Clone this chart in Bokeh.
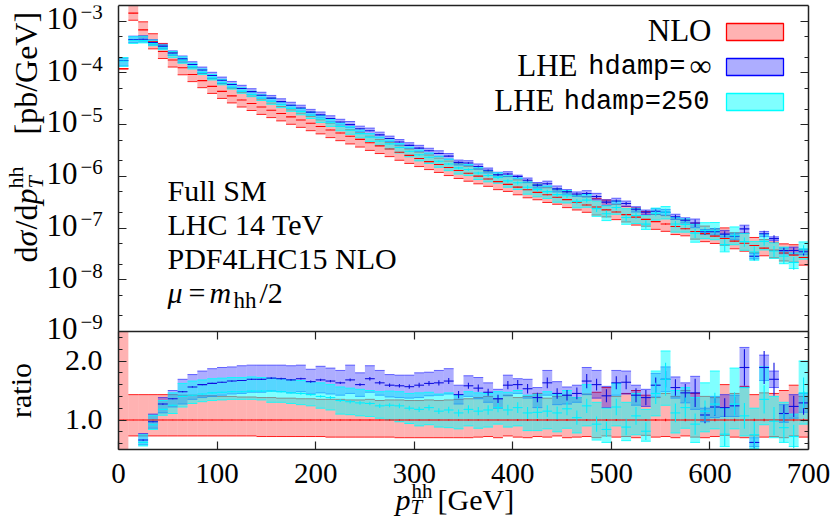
import numpy as np
from bokeh.plotting import figure
from bokeh.models import (ColumnDataSource, FixedTicker, LogAxis, LinearAxis, Range1d,
                          LinearScale, CustomJSTickFormatter, Label)
from bokeh.embed import file_html
from bokeh.resources import INLINE

# ---------------------------------------------------------------- data
bin_lo = list(range(0, 700, 10))      # left bin edges [GeV]
bin_width = 10

# NLO central value, d sigma / d pT [pb/GeV]
nlo_central = [1.2e-4, 1.43e-3, 6.8e-4, 4.0e-4, 2.6e-4, 1.78e-4, 1.26e-4, 9.3e-5, 7.1e-5, 5.5e-5,
               4.4e-5, 3.6e-5, 3.0e-5, 2.57e-5, 2.19e-5, 1.9e-5, 1.64e-5, 1.41e-5, 1.23e-5, 1.06e-5,
               9.2e-6, 7.9e-6, 6.9e-6, 5.96e-6, 5.19e-6, 4.47e-6, 3.89e-6, 3.39e-6, 2.92e-6, 2.54e-6,
               2.21e-6, 1.93e-6, 1.70e-6, 1.48e-6, 1.30e-6, 1.15e-6, 1.01e-6, 8.9e-7, 7.9e-7, 7.0e-7,
               6.2e-7, 5.5e-7, 4.9e-7, 4.4e-7, 3.95e-7, 3.55e-7, 3.15e-7, 2.8e-7, 2.55e-7, 2.25e-7,
               2.05e-7, 1.82e-7, 1.63e-7, 1.47e-7, 1.33e-7, 1.2e-7, 1.07e-7, 9.7e-8, 8.6e-8, 7.8e-8,
               7.0e-8, 6.3e-8, 5.6e-8, 5.1e-8, 4.6e-8, 4.1e-8, 3.7e-8, 3.3e-8, 3.0e-8, 2.7e-8]

# NLO scale band and stat. error, relative to the NLO central value
nlo_ratio_hi = [1.00, 1.43, 1.43, 1.43, 1.43, 1.43, 1.42, 1.42, 1.41, 1.41,
                1.40, 1.40, 1.39, 1.39, 1.38, 1.38, 1.37, 1.37, 1.36, 1.36,
                1.35, 1.35, 1.35, 1.34, 1.34, 1.35, 1.33, 1.34, 1.34, 1.33,
                1.33, 1.34, 1.33, 1.34, 1.35, 1.36, 1.38, 1.40, 1.36, 1.42,
                1.38, 1.40, 1.45, 1.37, 1.40, 1.42, 1.38, 1.44, 1.47, 1.55,
                1.40, 1.45, 1.50, 1.42, 1.38, 1.45, 1.40, 1.50, 1.45, 1.40,
                1.38, 1.60, 1.45, 1.57, 1.43, 1.46, 1.45, 1.50, 1.59, 1.40]
nlo_ratio_lo = [1.00, 0.73, 0.73, 0.73, 0.73, 0.73, 0.73, 0.73, 0.73, 0.73,
                0.73, 0.73, 0.73, 0.73, 0.72, 0.72, 0.72, 0.72, 0.72, 0.72,
                0.72, 0.71, 0.71, 0.71, 0.71, 0.71, 0.71, 0.71, 0.70, 0.70,
                0.70, 0.70, 0.70, 0.70, 0.70, 0.70, 0.71, 0.72, 0.70, 0.73,
                0.71, 0.70, 0.72, 0.71, 0.73, 0.70, 0.71, 0.72, 0.70, 0.73,
                0.71, 0.72, 0.70, 0.74, 0.71, 0.72, 0.70, 0.73, 0.71, 0.70,
                0.72, 0.74, 0.71, 0.70, 0.73, 0.71, 0.72, 0.70, 0.73, 0.71]
nlo_ratio_err = [0.004] * 20 + [0.008] * 20 + [0.015] * 15 + [0.02] * 15
nlo_ratio_bin0_band = (0.5, 2.5)   # first ratio bin is off scale: it fills the whole panel

# LHE hdamp = infinity, relative to the NLO central value
lhe_inf_ratio = [1.45, 0.31, 0.66, 0.97, 1.27, 1.36, 1.48, 1.56, 1.60, 1.62,
                 1.64, 1.66, 1.67, 1.69, 1.69, 1.71, 1.70, 1.68, 1.70, 1.65,
                 1.68, 1.66, 1.63, 1.68, 1.60, 1.70, 1.63, 1.59, 1.58, 1.565,
                 1.59, 1.62, 1.63, 1.66, 1.43, 1.58, 1.54, 1.47, 1.36, 1.59,
                 1.60, 1.53, 1.38, 1.63, 1.45, 1.42, 1.45, 1.66, 1.60, 1.41,
                 1.63, 1.64, 1.42, 1.38, 1.59, 1.69, 1.55, 1.46, 1.46, 1.085,
                 1.22, 1.21, 1.24, 1.89, 0.62, 1.89, 1.69, 1.11, 1.23, 1.29]
lhe_inf_ratio_hi = [1.62, 0.36, 0.77, 1.10, 1.38, 1.50, 1.69, 1.77, 1.83, 1.87,
                    1.89, 1.90, 1.92, 1.93, 1.93, 1.93, 1.93, 1.92, 1.93, 1.86,
                    1.91, 1.88, 1.84, 1.93, 1.80, 1.92, 1.84, 1.77, 1.76, 1.76,
                    1.80, 1.81, 1.84, 1.87, 1.59, 1.75, 1.72, 1.63, 1.52, 1.76,
                    1.70, 1.69, 1.55, 1.84, 1.65, 1.56, 1.59, 1.89, 1.84, 1.57,
                    1.84, 1.83, 1.59, 1.52, 1.79, 1.90, 1.73, 1.63, 1.74, 1.20,
                    1.40, 1.43, 1.42, 2.23, 0.70, 2.10, 1.83, 1.26, 1.43, 1.45]
lhe_inf_ratio_lo = [1.13, 0.27, 0.58, 0.86, 1.12, 1.22, 1.27, 1.35, 1.38, 1.40,
                    1.42, 1.44, 1.45, 1.47, 1.47, 1.49, 1.48, 1.46, 1.48, 1.44,
                    1.46, 1.44, 1.42, 1.45, 1.40, 1.47, 1.42, 1.39, 1.38, 1.37,
                    1.38, 1.41, 1.42, 1.44, 1.27, 1.40, 1.36, 1.30, 1.20, 1.41,
                    1.45, 1.37, 1.21, 1.42, 1.26, 1.27, 1.30, 1.43, 1.37, 1.21,
                    1.42, 1.44, 1.25, 1.23, 1.39, 1.48, 1.37, 1.29, 1.18, 0.97,
                    1.04, 1.06, 1.06, 1.55, 0.55, 1.67, 1.55, 0.96, 1.03, 1.13]
lhe_inf_ratio_err = [0.01, 0.005, 0.01, 0.01, 0.01, 0.01, 0.01, 0.01, 0.01, 0.01,
                     0.01, 0.01, 0.01, 0.01, 0.01, 0.015, 0.015, 0.015, 0.015, 0.02,
                     0.02, 0.02, 0.02, 0.025, 0.025, 0.03, 0.03, 0.03, 0.03, 0.035,
                     0.04, 0.04, 0.045, 0.05, 0.06, 0.05, 0.06, 0.06, 0.07, 0.07,
                     0.08, 0.08, 0.08, 0.09, 0.09, 0.09, 0.10, 0.12, 0.10, 0.11,
                     0.11, 0.12, 0.12, 0.13, 0.13, 0.14, 0.14, 0.15, 0.24, 0.14,
                     0.15, 0.16, 0.15, 0.31, 0.10, 0.28, 0.28, 0.15, 0.18, 0.20]

# LHE hdamp = 250, relative to the NLO central value
lhe_250_ratio = [1.42, 0.30, 0.62, 0.92, 1.18, 1.25, 1.40, 1.42, 1.44, 1.46,
                 1.47, 1.48, 1.48, 1.49, 1.49, 1.49, 1.48, 1.46, 1.45, 1.43,
                 1.40, 1.38, 1.33, 1.31, 1.29, 1.28, 1.24, 1.25, 1.24, 1.20,
                 1.18, 1.21, 1.15, 1.17, 1.12, 1.18, 1.15, 1.17, 1.21, 1.17,
                 1.21, 1.12, 1.13, 1.15, 1.12, 1.19, 1.04, 1.24, 0.93, 0.84,
                 1.22, 0.88, 1.07, 0.81, 1.45, 1.69, 1.12, 1.21, 0.93, 1.15,
                 1.27, 0.76, 1.27, 1.07, 0.75, 1.35, 0.98, 0.87, 0.72, 1.46]
lhe_250_ratio_hi = [1.65, 0.35, 0.75, 1.08, 1.33, 1.46, 1.62, 1.66, 1.68, 1.70,
                    1.71, 1.72, 1.72, 1.73, 1.72, 1.71, 1.70, 1.68, 1.67, 1.65,
                    1.63, 1.60, 1.56, 1.54, 1.52, 1.50, 1.48, 1.49, 1.48, 1.45,
                    1.46, 1.47, 1.44, 1.46, 1.42, 1.48, 1.46, 1.45, 1.48, 1.47,
                    1.50, 1.42, 1.44, 1.48, 1.44, 1.50, 1.38, 1.60, 1.30, 1.20,
                    1.62, 1.30, 1.45, 1.18, 1.83, 2.17, 1.50, 1.55, 1.38, 1.63,
                    1.83, 1.20, 1.88, 1.55, 1.20, 1.90, 1.40, 1.30, 1.10, 2.00]
lhe_250_ratio_lo = [1.12, 0.26, 0.56, 0.84, 1.08, 1.11, 1.22, 1.28, 1.31, 1.33,
                    1.34, 1.35, 1.35, 1.35, 1.34, 1.30, 1.30, 1.28, 1.26, 1.24,
                    1.20, 1.17, 1.10, 1.09, 1.07, 1.06, 1.03, 1.00, 0.97, 0.94,
                    0.90, 0.92, 0.88, 0.87, 0.85, 0.90, 0.86, 0.88, 0.93, 0.88,
                    0.90, 0.82, 0.82, 0.85, 0.80, 0.86, 0.78, 0.90, 0.66, 0.62,
                    0.90, 0.65, 0.75, 0.64, 1.07, 1.25, 0.78, 0.86, 0.62, 0.80,
                    0.85, 0.55, 0.85, 0.73, 0.52, 0.92, 0.70, 0.62, 0.55, 0.93]
lhe_250_ratio_err = [0.01, 0.005, 0.01, 0.01, 0.01, 0.01, 0.01, 0.01, 0.01, 0.01,
                     0.01, 0.01, 0.01, 0.01, 0.015, 0.015, 0.015, 0.015, 0.02, 0.02,
                     0.02, 0.025, 0.025, 0.03, 0.03, 0.03, 0.035, 0.035, 0.04, 0.04,
                     0.045, 0.05, 0.05, 0.055, 0.06, 0.07, 0.07, 0.08, 0.08, 0.09,
                     0.09, 0.10, 0.10, 0.10, 0.11, 0.11, 0.12, 0.12, 0.13, 0.13,
                     0.14, 0.14, 0.15, 0.15, 0.18, 0.28, 0.16, 0.17, 0.18, 0.18,
                     0.19, 0.20, 0.20, 0.22, 0.22, 0.24, 0.24, 0.25, 0.20, 0.26]
ratio_lhe_first_bin = 2   # the first two LHE ratio bins are off scale

# ticks and texts
log_tick_exponents = [-9, -8, -7, -6, -5, -4, -3]
log_minor_mantissas = [2, 5]
x_ticks = [0, 100, 200, 300, 400, 500, 600, 700]
ratio_ticks = [1.0, 2.0]
ratio_minor_ticks = [0.6, 0.8, 1.2, 1.4, 1.6, 1.8, 2.2, 2.4]
info_lines = ["Full SM", "LHC 14 TeV", "PDF4LHC15 NLO"]
legend_names = ["NLO", "LHE hdamp=\u221e", "LHE hdamp=250"]

# ---------------------------------------------------------------- geometry (page px)
W, H = 830, 521
BOX_L, BOX_R = 118, 808          # plot boxes, left / right
TOP_T, MID, BOT_B = 5, 331, 449  # top of upper box, panel border, bottom of ratio box
X0, X1 = 0, 700
Y_MIN = 1e-9
DEC_PX = (MID - 20.7) / 6.0      # pixels per decade
R_LO, R_HI = 0.5, 2.5
R_PX = (BOT_B - MID) / (R_HI - R_LO)
BASE_SHIFT = 0.25                # text baseline correction, in units of font size

def gx(px):
    return X0 + (px - BOX_L) * (X1 - X0) / (BOX_R - BOX_L)

def gy_top(py):
    return 10 ** (np.log10(Y_MIN) + (MID - py) / DEC_PX)

def py_top(v):
    return MID - (np.log10(v) - np.log10(Y_MIN)) * DEC_PX

def gy_bot(py):
    return R_HI - (py - MID) / R_PX

def py_bot(r):
    return MID + (R_HI - r) * R_PX

Y_MAX = gy_top(TOP_T)

SERIF = "Liberation Serif"
MONO = "Liberation Mono"
INK = "#222222"
RED, BLUE, CYAN = "#FF0000", "#0000FF", "#00FFFF"
STY = {
    "nlo": dict(fill=RED, falpha=0.30, line=RED, lalpha=0.85, cline="#FF0000"),
    "inf": dict(fill=BLUE, falpha=0.32, line=BLUE, lalpha=0.55, cline="#1010E0"),
    "h250": dict(fill=CYAN, falpha=0.50, line=CYAN, lalpha=0.85, cline="#00F0FF"),
}

edges = np.array(bin_lo, dtype=float)
left = edges
right = edges + bin_width
mid = edges + bin_width / 2
nc = np.array(nlo_central)


def make(c, lo, hi, err, scale, idx):
    c, lo, hi, err, s = (np.asarray(a, float)[idx] for a in (c, lo, hi, err, scale))
    return dict(left=left[idx], right=right[idx], mid=mid[idx],
                c=s * c, lo=s * lo, hi=s * hi, elo=s * (c - err), ehi=s * (c + err))


def draw_band(p, d, st, rn):
    src = ColumnDataSource(d)
    p.quad(left="left", right="right", bottom="lo", top="hi", source=src, y_range_name=rn,
           fill_color=st["fill"], fill_alpha=st["falpha"], line_color=None)
    for key in ("hi", "lo"):
        p.segment(x0="left", x1="right", y0=key, y1=key, source=src, y_range_name=rn,
                  line_color=st["line"], line_alpha=st["lalpha"], line_width=1)


def draw_central(p, d, st, rn):
    src = ColumnDataSource(d)
    p.segment(x0="left", x1="right", y0="c", y1="c", source=src, y_range_name=rn,
              line_color=st["cline"], line_width=1.1)
    p.segment(x0="mid", x1="mid", y0="elo", y1="ehi", source=src, y_range_name=rn,
              line_color=st["cline"], line_width=1.1)


def lab(p, panel, px, py, text, size, font=SERIF, style="normal", align="left", rotated=False):
    """Text whose baseline anchor sits at page position (px, py)."""
    if rotated:
        px = px - BASE_SHIFT * size
    else:
        py = py - BASE_SHIFT * size
    if panel == "top":
        y, rn = gy_top(py), "default"
    else:
        y, rn = gy_bot(py), "ratio"
    p.add_layout(Label(x=gx(px), y=y, y_range_name=rn, text=text, text_font=font,
                       text_font_size=f"{size}px", text_font_style=style,
                       text_align=align, text_baseline="alphabetic",
                       angle=(np.pi / 2 if rotated else 0.0), text_color="black"))


def frame_axis(ax, ticks, minor=()):
    ax.ticker = FixedTicker(ticks=list(ticks), minor_ticks=list(minor))
    ax.formatter = CustomJSTickFormatter(code="return ''")
    ax.major_label_text_font_size = "0px"
    ax.major_label_standoff = 0
    ax.axis_label = None
    ax.axis_line_color = INK
    ax.axis_line_width = 1.5
    ax.major_tick_in = 8
    ax.major_tick_out = 0
    ax.minor_tick_in = 4
    ax.minor_tick_out = 0
    ax.major_tick_line_color = INK
    ax.minor_tick_line_color = INK
    ax.major_tick_line_width = 1.2
    ax.minor_tick_line_width = 1.2
    return ax


all_idx = np.arange(len(bin_lo))
ratio_idx = np.arange(ratio_lhe_first_bin, len(bin_lo))
ones = np.ones(len(bin_lo))

# one canvas holding both panels: log scale for the spectrum, linear "ratio" scale below
p = figure(width=W, height=H, x_range=Range1d(gx(0), gx(W)),
           y_range=Range1d(gy_top(H), Y_MAX), y_axis_type="log",
           x_axis_location=None, y_axis_location=None,
           output_backend="svg", toolbar_location=None,
           min_border_left=0, min_border_right=0, min_border_top=TOP_T, min_border_bottom=0)
p.extra_y_ranges = {"ratio": Range1d(gy_bot(H), gy_bot(TOP_T))}
p.extra_y_scales = {"ratio": LinearScale()}
p.grid.visible = False
p.outline_line_color = None

# ---------------------------------------------------------------- axes (plot boxes)
log_ticks = [10.0 ** k for k in log_tick_exponents]
log_minor = [m * 10.0 ** k for k in log_tick_exponents for m in log_minor_mantissas
             if m * 10.0 ** k < Y_MAX]
for loc, side in ((X0, "left"), (X1, "right")):
    p.add_layout(frame_axis(LogAxis(fixed_location=loc, bounds=(Y_MIN, Y_MAX)),
                            log_ticks, log_minor), side)
    p.add_layout(frame_axis(LinearAxis(fixed_location=loc, bounds=(R_LO, R_HI),
                                       y_range_name="ratio"),
                            ratio_ticks, ratio_minor_ticks), side)
p.add_layout(frame_axis(LinearAxis(bounds=(X0, X1)), []), "above")
p.add_layout(frame_axis(LinearAxis(bounds=(X0, X1), fixed_location=Y_MIN), x_ticks), "above")
p.add_layout(frame_axis(LinearAxis(bounds=(X0, X1), fixed_location=R_LO,
                                   y_range_name="ratio"), x_ticks), "below")

# ---------------------------------------------------------------- upper panel
t_nlo = make(ones, nlo_ratio_lo, nlo_ratio_hi, nlo_ratio_err, nc, all_idx)
t_inf = make(lhe_inf_ratio, lhe_inf_ratio_lo, lhe_inf_ratio_hi, lhe_inf_ratio_err, nc, all_idx)
t_250 = make(lhe_250_ratio, lhe_250_ratio_lo, lhe_250_ratio_hi, lhe_250_ratio_err, nc, all_idx)
for d, k in ((t_nlo, "nlo"), (t_inf, "inf"), (t_250, "h250")):
    draw_band(p, d, STY[k], "default")
for d, k in ((t_nlo, "nlo"), (t_inf, "inf"), (t_250, "h250")):
    draw_central(p, d, STY[k], "default")

# tick labels 10^k
for k in log_tick_exponents:
    ty = py_top(10.0 ** k)
    lab(p, "top", 77, ty + 5, "10", 31, align="right")
    lab(p, "top", 80, ty - 4, "\u2212" + str(abs(k)), 21)

# y axis title: d sigma / d p_T^hh [pb/GeV]
lab(p, "top", 33, 262, "d", 32, rotated=True)
lab(p, "top", 33, 246, "\u03c3", 32, style="italic", rotated=True)
lab(p, "top", 33, 229, "/d", 32, rotated=True)
lab(p, "top", 33, 204, "p", 32, style="italic", rotated=True)
lab(p, "top", 40, 188, "T", 22, style="italic", rotated=True)
lab(p, "top", 20, 188, "hh", 22, rotated=True)
lab(p, "top", 33, 134, "[pb/GeV]", 32, rotated=True)

# info text
for i, line in enumerate(info_lines):
    lab(p, "top", 167, 197 + 34.3 * i, line, 30)
mu_y = 197 + 34.3 * 3
lab(p, "top", 167, mu_y, "\u03bc", 30, style="italic")
lab(p, "top", 188, mu_y, "=", 30)
lab(p, "top", 209, mu_y, "m", 30, style="italic")
lab(p, "top", 233, mu_y + 6, "hh", 23)
lab(p, "top", 259, mu_y, "/2", 30)

# legend
for i, k in enumerate(("nlo", "inf", "h250")):
    st = STY[k]
    yt = 23 + 35 * i
    p.quad(left=[gx(726)], right=[gx(783)], bottom=[gy_top(yt + 17)], top=[gy_top(yt)],
           fill_color=st["fill"], fill_alpha=st["falpha"], line_color=st["line"], line_width=1.3)
base = [38, 73, 108]
lab(p, "top", 711, base[0], legend_names[0], 31, align="right")
pre, post = legend_names[1].split(" ")
lab(p, "top", 711, base[1], post[-1], 31, align="right")
lab(p, "top", 685, base[1], post[:-1], 27, font=MONO, align="right")
lab(p, "top", 577, base[1], pre, 31, align="right")
pre, post = legend_names[2].split(" ")
lab(p, "top", 709, base[2], post, 27, font=MONO, align="right")
lab(p, "top", 554, base[2], pre, 31, align="right")

# ---------------------------------------------------------------- ratio panel
r_lo = list(nlo_ratio_lo)
r_hi = list(nlo_ratio_hi)
r_lo[0], r_hi[0] = nlo_ratio_bin0_band
b_nlo = make(ones, r_lo, r_hi, nlo_ratio_err, ones, all_idx)
b_inf = make(lhe_inf_ratio, lhe_inf_ratio_lo, lhe_inf_ratio_hi, lhe_inf_ratio_err, ones, ratio_idx)
b_250 = make(lhe_250_ratio, lhe_250_ratio_lo, lhe_250_ratio_hi, lhe_250_ratio_err, ones, ratio_idx)
for d, k in ((b_nlo, "nlo"), (b_inf, "inf"), (b_250, "h250")):
    draw_band(p, d, STY[k], "ratio")
for d, k in ((b_nlo, "nlo"), (b_inf, "inf"), (b_250, "h250")):
    draw_central(p, d, STY[k], "ratio")

for t in ratio_ticks:
    lab(p, "bot", 102, py_bot(t) + 7, f"{t:.1f}", 30, align="right")
lab(p, "bot", 27, 390, "ratio", 30, align="center", rotated=True)

for t in x_ticks:
    lab(p, "bot", BOX_L + (t - X0) * (BOX_R - BOX_L) / (X1 - X0), 480, str(t), 29,
        align="center")

# x axis title: p_T^hh [GeV]
lab(p, "bot", 395, 506, "p", 30, style="italic")
lab(p, "bot", 410, 512, "T", 21, style="italic")
lab(p, "bot", 411, 496, "hh", 21)
lab(p, "bot", 437, 506, "[GeV]", 30)

open("out.html", "w").write(file_html(p, INLINE))
